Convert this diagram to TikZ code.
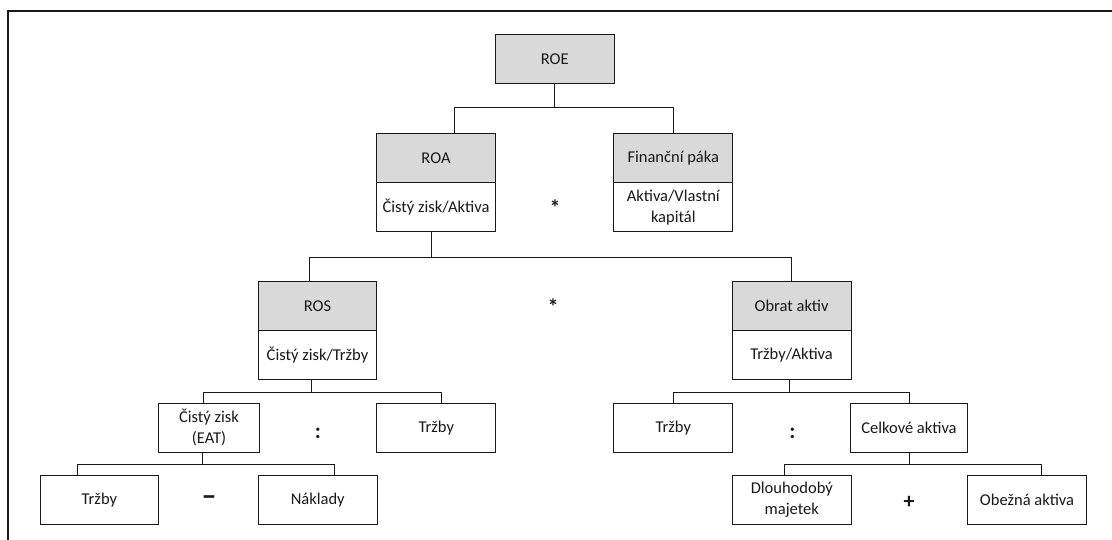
\documentclass[tikz,border=0pt]{standalone}
\usepackage{fontspec}
\setmainfont{Carlito}
\usepackage{tikz}
\usetikzlibrary{positioning}
\tikzstyle{spoj}=[line width=1pt, draw=black!90]

\begin{document}
\begin{tikzpicture}[x=1pt,y=-1pt,
    box/.style={rectangle,draw=black!90,line width=1pt,minimum width=118.8pt,minimum height=49.2pt,
      inner sep=1pt,outer sep=0pt,align=center,text=black!90,font=\fontsize{16.5}{21}\selectfont},
    hlava/.style={box,fill=black!15},
    telo/.style={box,fill=white},
    op/.style={inner sep=0pt,text=black!90,font=\fontsize{22}{22}\selectfont\bfseries}]
  \useasboundingbox (0,0) rectangle (1112,539);
  \draw [line width=1.3pt,black!90] (8,11) rectangle (1140,570);

  % ROE
  \node [hlava] (roe) at (554.8,58.7) {ROE};

  % ROA a financni paka
  \node [hlava] (roa) at (436,158) {ROA};
  \node [telo,below=0pt of roa] (roaf) {Čistý zisk/Aktiva};
  \node [hlava] (paka) at (673.3,158) {Finanční páka};
  \node [telo,below=0pt of paka] (pakaf) {Aktiva/Vlastní\\kapitál};
  \node [op] (krat1) at (555,208) {*};

  % ROS a obrat aktiv
  \node [hlava] (ros) at (317.5,305.7) {ROS};
  \node [telo,below=0pt of ros] (rosf) {Čistý zisk/Tržby};
  \node [hlava] (obrat) at (791.6,305.7) {Obrat aktiv};
  \node [telo,below=0pt of obrat] (obratf) {Tržby/Aktiva};
  \node [op] (krat2) at (553,307) {*};

  % treti uroven
  \node [box,minimum width=100.7pt] (eat) at (209,427.8) {Čistý zisk\\(EAT)};
  \node [box] (trzbyA) at (436.3,427.8) {Tržby};
  \node [op] (del1) at (318,433) {:};
  \node [box] (trzbyB) at (673.3,427.8) {Tržby};
  \node [box,minimum width=116.8pt] (celk) at (909,427.8) {Celkové aktiva};
  \node [op] (del2) at (792.4,433) {:};

  % ctvrta uroven
  \node [box] (trzbyC) at (99.4,500) {Tržby};
  \node [box] (naklady) at (317.7,500) {Náklady};
  \node [op,font=\fontsize{30}{30}\selectfont\bfseries] (minus) at (209,501) {\textendash};
  \node [box] (dlouh) at (791.8,500) {Dlouhodobý\\majetek};
  \node [box] (obez) at (1027,500) {Obežná aktiva};
  \node [op] (plus) at (909,502) {+};

  % spojnice
  \draw [spoj] (roe.south) -- ++(0,24.6) -| ([xshift=18pt]roa.north);
  \draw [spoj] (roe.south) -- ++(0,24.6) -| (paka.north);
  \draw [spoj] ([xshift=-5pt]roaf.south) -- ++(0,25.3) -| ([xshift=-8.5pt]ros.north);
  \draw [spoj] ([xshift=-5pt]roaf.south) -- ++(0,25.3) -| (obrat.north);
  \draw [spoj] ([xshift=-6.5pt]rosf.south) -- ++(0,13) -| ([xshift=-5.4pt]eat.north);
  \draw [spoj] ([xshift=-6.5pt]rosf.south) -- ++(0,13) -| ([xshift=5.5pt]trzbyA.north);
  \draw [spoj] ([xshift=-2pt]obratf.south) -- ++(0,13) -| (trzbyB.north);
  \draw [spoj] ([xshift=-2pt]obratf.south) -- ++(0,13) -| (celk.north);
  \draw [spoj] ([xshift=-7pt]eat.south) -- ++(0,11.7) -| ([xshift=-22pt]trzbyC.north);
  \draw [spoj] ([xshift=-7pt]eat.south) -- ++(0,11.7) -| ([xshift=16.7pt]naklady.north);
  \draw [spoj] (celk.south) -- ++(0,11.7) -| ([xshift=-7pt]dlouh.north);
  \draw [spoj] (celk.south) -- ++(0,11.7) -| ([xshift=14pt]obez.north);
\end{tikzpicture}
\end{document}
